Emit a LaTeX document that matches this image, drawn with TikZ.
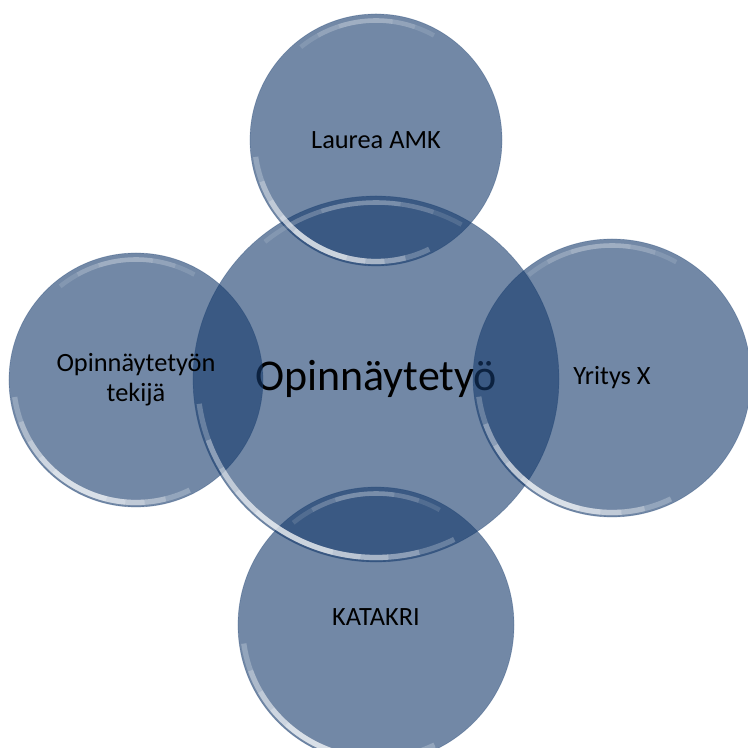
\documentclass[tikz,border=0pt]{standalone}
\usepackage{fontspec}
\setmainfont{Carlito}

\definecolor{bubblefill}{RGB}{20,57,107}

\tikzset{
	bubble/.style={circle, fill=bubblefill, fill opacity=0.6, text opacity=1, draw=bubblefill, draw opacity=0.3, line width=0.4pt, inner sep=0pt, align=center, font=\fontsize{15}{17}\selectfont},
	gloss/.style={white, line cap=butt, line width=3pt, draw opacity=0.24},
	rimtop/.style={white, line cap=butt, line width=2.6pt, draw opacity=0.12}
}

\begin{document}
\begin{tikzpicture}
		\useasboundingbox (-7.52,-7.38) rectangle (7.42,7.58);
		\node[bubble, minimum size=7.32cm, font=\fontsize{25}{30}\selectfont] (work) at (0,0) {Opinnäytetyö};
		\node[bubble, minimum size=5.04cm] (laurea) at (0,4.78) {Laurea AMK};
		\node[bubble, minimum size=5.08cm] (author) at (-4.8,-0.02) {Opinnäytetyön\\tekijä};
		\node[bubble, minimum size=5.56cm] (company) at (4.72,0.02) {Yritys X};
		\node[bubble, minimum size=5.52cm] (katakri) at (0,-4.92) {\raisebox{0.3cm}{KATAKRI}};
		% glossy rims, layered so they fade at the ends
		\foreach \n/\r in {work/3.57, laurea/2.43, author/2.45, company/2.69, katakri/2.67}
		{
			\foreach \s in {54,42,32,23,14}
			{
				\draw[gloss] ([shift={(242-\s:\r)}]\n.center) arc[start angle=242-\s, end angle=242+\s, radius=\r];
			}
			\foreach \s in {34,24,13}
			{
				\draw[rimtop] ([shift={(95-\s:\r-0.04)}]\n.center) arc[start angle=95-\s, end angle=95+\s, radius=\r-0.04];
			}
		}
	\end{tikzpicture}
\end{document}
